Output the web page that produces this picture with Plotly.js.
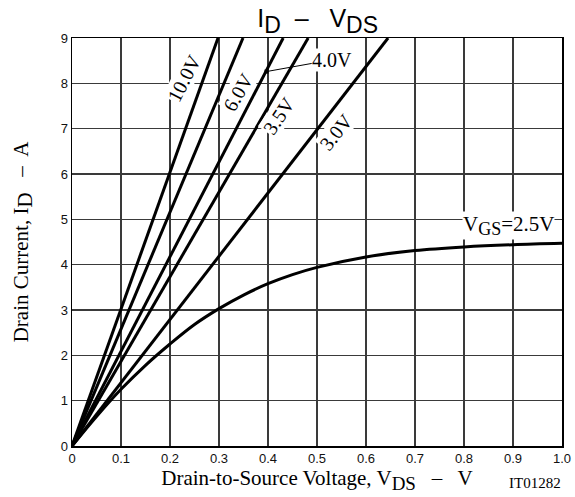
<!DOCTYPE html>
<html>
<head>
<meta charset="utf-8">
<script src="https://cdn.plot.ly/plotly-3.0.1.min.js"></script>
<style>html,body{margin:0;padding:0;background:#fff;}#chart{width:575px;height:497px;}</style>
</head>
<body>
<div id="chart"></div>
<script>
// Linear curves: V_DS where I_D reaches 9 A
const vgsLinear = ["10.0V", "6.0V", "4.0V", "3.5V", "3.0V"];
const vdsAt9A = [0.298, 0.349, 0.431, 0.482, 0.645];
const linearIdStart = 0;
const linearIdEnd = 9;

// VGS = 2.5V curve
const vds25 = [0, 0.05, 0.1, 0.15, 0.2, 0.25, 0.3, 0.35, 0.4, 0.45, 0.5, 0.6, 0.7, 0.8, 0.9, 1.0];
const id25  = [0, 0.65, 1.25, 1.78, 2.25, 2.68, 3.03, 3.33, 3.58, 3.78, 3.94, 4.17, 4.31, 4.39, 4.44, 4.47];

const xTicks = [0, 0.1, 0.2, 0.3, 0.4, 0.5, 0.6, 0.7, 0.8, 0.9, 1.0];
const xTickText = ["0", "0.1", "0.2", "0.3", "0.4", "0.5", "0.6", "0.7", "0.8", "0.9", "1.0"];
const yTicks = [0, 1, 2, 3, 4, 5, 6, 7, 8, 9];

const lineStyle = {color: "#000", width: 3};
const traces = vgsLinear.map((name, i) => ({
  x: [0, vdsAt9A[i]], y: [linearIdStart, linearIdEnd],
  mode: "lines", line: lineStyle, name: name, hoverinfo: "skip"
}));
traces.push({x: vds25, y: id25, mode: "lines", line: {color: "#000", width: 3, shape: "spline"}, name: "2.5V", hoverinfo: "skip"});

const serif = "'Liberation Serif'";
const sans = "'Liberation Sans'";
const lblFont = {family: serif, size: 20, color: "#000"};
const sub = (t, px) => "<sub><span style='font-size:" + px + "px'>" + t + "</span></sub>";

const annotations = [
  {x: 0.229, y: 8.12, text: "10.0V", textangle: -63, showarrow: false, font: lblFont, bgcolor: "#fff", borderpad: 0},
  {x: 0.339, y: 7.81, text: "6.0V", textangle: -60, showarrow: false, font: lblFont, bgcolor: "#fff", borderpad: 0},
  {x: 0.422, y: 7.28, text: "3.5V", textangle: -56, showarrow: false, font: lblFont, bgcolor: "#fff", borderpad: 0},
  {x: 0.539, y: 6.93, text: "3.0V", textangle: -52, showarrow: false, font: lblFont, bgcolor: "#fff", borderpad: 0},
  {x: 0.397, y: 8.26, ax: 0.531, ay: 8.52, axref: "x", ayref: "y", text: "4.0V", showarrow: true,
   arrowhead: 7, arrowsize: 1, arrowwidth: 1, arrowcolor: "#000", standoff: 0, font: lblFont, bgcolor: "#fff", borderpad: 0},
  {x: 0.89, y: 4.86, text: "V" + sub("GS", 18) + "=2.5V", showarrow: false, font: {family: serif, size: 21, color: "#000"}, bgcolor: "#fff", borderpad: 0},
  {xref: "paper", yref: "paper", x: 0.945, y: -0.09, xanchor: "center", yanchor: "middle",
   text: "IT01282", showarrow: false, font: {family: serif, size: 15, color: "#000"}}
];

const layout = {
  width: 575, height: 497,
  margin: {l: 72, r: 13, t: 38, b: 51},
  paper_bgcolor: "#fff", plot_bgcolor: "#fff",
  showlegend: false,
  title: {text: "I" + sub("D", 23) + "  –   V" + sub("DS", 23), font: {family: sans, size: 25, color: "#000"},
          x: 0.378, xanchor: "left", xref: "paper", y: 0.98, yanchor: "top", yref: "container"},
  xaxis: {range: [0, 1], tickvals: xTicks, ticktext: xTickText, ticks: "", showgrid: true,
          gridcolor: "#3a3a3a", gridwidth: 1.2, zeroline: false, showline: true, linecolor: "#000", linewidth: 1.5,
          mirror: true, tickfont: {family: sans, size: 13, color: "#111"},
          title: {text: "Drain-to-Source Voltage, V" + sub("DS", 19) + "   –   V", font: {family: serif, size: 21, color: "#000"}, standoff: 2}},
  yaxis: {range: [0, 9], tickvals: yTicks, ticks: "", showgrid: true,
          gridcolor: "#3a3a3a", gridwidth: 1.2, zeroline: false, showline: true, linecolor: "#000", linewidth: 1.5,
          mirror: true, tickfont: {family: sans, size: 13, color: "#111"},
          title: {text: "Drain Current, I" + sub("D", 21) + "   –  A", font: {family: serif, size: 21, color: "#000"}, standoff: 26}},
  annotations: annotations
};

Plotly.newPlot("chart", traces, layout, {displayModeBar: false, staticPlot: true});
</script>
</body>
</html>
